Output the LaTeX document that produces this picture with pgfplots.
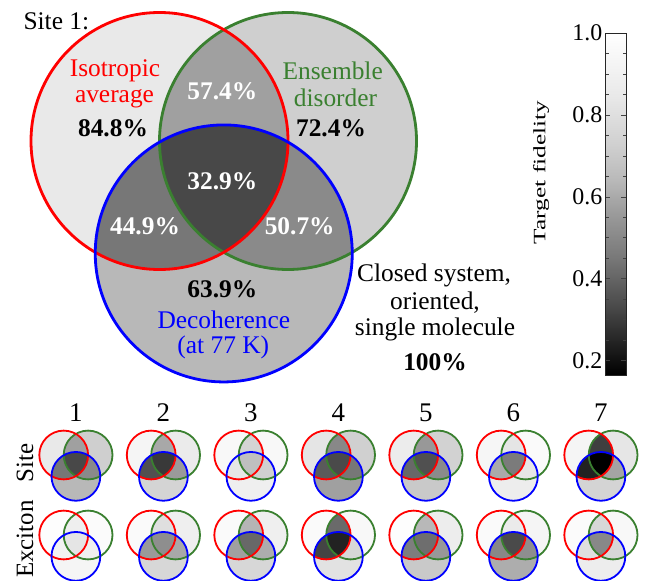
\documentclass[border=0pt]{standalone}
\usepackage{fontspec}
\setmainfont{Liberation Serif}
\usepackage{pgfplots}
\pgfplotsset{compat=1.18}
\definecolor{vgreen}{RGB}{58,128,48}
\definecolor{vred}{RGB}{255,0,0}
\definecolor{vblue}{RGB}{0,0,255}
\pgfplotsset{colormap={fid}{gray(165pt)=(0); gray(329pt)=(0.282); gray(449pt)=(0.467); gray(507pt)=(0.541); gray(574pt)=(0.627); gray(639pt)=(0.722); gray(724pt)=(0.812); gray(848pt)=(0.914); gray(1000pt)=(1)}}
\newcommand\fs[1]{\fontsize{#1}{#1}\selectfont}
\newcommand\defcol[2]{\pgfmathparse{max(0,min(1000,(#2-0.165)/0.835*1000))}\pgfplotscolormapdefinemappedcolor{\pgfmathresult}\colorlet{#1}{mapped color}}
% id, R, G, B, RG, RB, GB, RGB  (target fidelities)
\newcommand\venncols[8]{\defcol{#1R}{#2}\defcol{#1G}{#3}\defcol{#1B}{#4}\defcol{#1RG}{#5}\defcol{#1RB}{#6}\defcol{#1GB}{#7}\defcol{#1RGB}{#8}}
% id, cx, cy, r, line width
\newcommand\venn[5]{%
 \coordinate (#1r) at (axis cs:#2,#3);
 \coordinate (#1g) at ([xshift=#4bp]axis cs:#2,#3);
 \coordinate (#1b) at ([shift={({0.5*#4bp},{-0.875*#4bp})}]axis cs:#2,#3);
 \fill[#1R] (#1r) circle[radius=#4bp];
 \fill[#1G] (#1g) circle[radius=#4bp];
 \fill[#1B] (#1b) circle[radius=#4bp];
 \begin{scope}\clip (#1g) circle[radius=#4bp]; \fill[#1GB] (#1b) circle[radius=#4bp];\end{scope}
 \begin{scope}\clip (#1r) circle[radius=#4bp]; \fill[#1RG] (#1g) circle[radius=#4bp]; \fill[#1RB] (#1b) circle[radius=#4bp];
   \clip (#1g) circle[radius=#4bp]; \fill[#1RGB] (#1b) circle[radius=#4bp];\end{scope}
 \draw[vgreen, line width=#5] (#1g) circle[radius=#4bp];
 \draw[vred, line width=#5] (#1r) circle[radius=#4bp];
 \draw[vblue, line width=#5] (#1b) circle[radius=#4bp];
}
\begin{document}
\begin{tikzpicture}
\begin{axis}[at={(0,0)}, anchor=south west, scale only axis, width=646bp, height=581bp,
  xmin=0, xmax=646, ymin=0, ymax=581, y dir=reverse, hide axis, clip=false]
% main Venn, site 1
\venncols{m}{0.848}{0.724}{0.639}{0.574}{0.449}{0.507}{0.329}
\venn{m}{159.5}{141}{128.5}{2.8bp}
% site row
\venncols{sa}{0.848}{0.724}{0.639}{0.574}{0.449}{0.507}{0.329}
\venncols{sb}{0.93}{0.86}{0.75}{0.595}{0.35}{0.555}{0.295}
\venncols{sc}{0.95}{0.95}{0.89}{0.75}{0.835}{0.73}{0.665}
\venncols{sd}{0.83}{0.73}{0.574}{0.50}{0.375}{0.449}{0.334}
\venncols{se}{0.87}{0.74}{0.70}{0.55}{0.41}{0.51}{0.35}
\venncols{sf}{0.94}{0.965}{0.875}{0.83}{0.60}{0.835}{0.46}
\venncols{sg}{0.93}{0.835}{0.75}{0.31}{0.243}{0.585}{0.165}
% exciton row
\venncols{ea}{0.985}{0.97}{0.93}{0.89}{0.91}{0.89}{0.83}
\venncols{eb}{0.965}{0.89}{0.76}{0.80}{0.555}{0.595}{0.52}
\venncols{ec}{0.965}{0.89}{0.76}{0.63}{0.574}{0.61}{0.41}
\venncols{ed}{0.965}{0.95}{0.815}{0.415}{0.32}{0.76}{0.243}
\venncols{ee}{0.985}{0.875}{0.70}{0.639}{0.47}{0.55}{0.425}
\venncols{ef}{0.965}{0.93}{0.61}{0.86}{0.50}{0.52}{0.334}
\venncols{eg}{0.975}{0.95}{0.875}{0.76}{0.80}{0.76}{0.50}
\venn{sa}{63.7}{455}{24.4}{1.8bp}
\venn{sb}{151.2}{455}{24.4}{1.8bp}
\venn{sc}{238.7}{455}{24.4}{1.8bp}
\venn{sd}{326.2}{455}{24.4}{1.8bp}
\venn{se}{413.7}{455}{24.4}{1.8bp}
\venn{sf}{501.2}{455}{24.4}{1.8bp}
\venn{sg}{588.7}{455}{24.4}{1.8bp}
\venn{ea}{63.7}{535}{24.4}{1.8bp}
\venn{eb}{151.2}{535}{24.4}{1.8bp}
\venn{ec}{238.7}{535}{24.4}{1.8bp}
\venn{ed}{326.2}{535}{24.4}{1.8bp}
\venn{ee}{413.7}{535}{24.4}{1.8bp}
\venn{ef}{501.2}{535}{24.4}{1.8bp}
\venn{eg}{588.7}{535}{24.4}{1.8bp}
% texts
\node[anchor=base west, font=\fs{25.5}, inner sep=0] at (axis cs:23.3,29.3) {Site 1:};
\node[anchor=base, font=\fs{25.5}, text=vred, inner sep=0] at (axis cs:115,76.7) {Isotropic};
\node[anchor=base, font=\fs{25.5}, text=vred, inner sep=0] at (axis cs:114.5,102.7) {average};
\node[anchor=base, font=\fs{25.5}\bfseries, inner sep=0] at (axis cs:113,136.7) {84.8\%};
\node[anchor=base, font=\fs{25.5}\bfseries, text=white, inner sep=0] at (axis cs:222.3,99) {57.4\%};
\node[anchor=base, font=\fs{25.5}, text=vgreen, inner sep=0] at (axis cs:332.7,79.3) {Ensemble};
\node[anchor=base, font=\fs{25.5}, text=vgreen, inner sep=0] at (axis cs:335.5,106) {disorder};
\node[anchor=base, font=\fs{25.5}\bfseries, inner sep=0] at (axis cs:331,136.7) {72.4\%};
\node[anchor=base, font=\fs{25.5}\bfseries, text=white, inner sep=0] at (axis cs:222.3,189.3) {32.9\%};
\node[anchor=base, font=\fs{25.5}\bfseries, text=white, inner sep=0] at (axis cs:145,234) {44.9\%};
\node[anchor=base, font=\fs{25.5}\bfseries, text=white, inner sep=0] at (axis cs:299.7,234) {50.7\%};
\node[anchor=base, font=\fs{25.5}\bfseries, inner sep=0] at (axis cs:222.3,297.7) {63.9\%};
\node[anchor=base, font=\fs{25.5}, text=vblue, inner sep=0] at (axis cs:223.8,328.3) {Decoherence};
\node[anchor=base, font=\fs{25.5}, text=vblue, inner sep=0] at (axis cs:223.3,353.3) {(at 77 K)};
\node[anchor=base, font=\fs{25.5}, inner sep=0] at (axis cs:434,281.7) {Closed system,};
\node[anchor=base, font=\fs{25.5}, inner sep=0] at (axis cs:435,309.3) {oriented,};
\node[anchor=base, font=\fs{25.5}, inner sep=0] at (axis cs:435,335) {single molecule};
\node[anchor=base, font=\fs{25.5}\bfseries, inner sep=0] at (axis cs:435,370) {100\%};
% small labels
\node[anchor=base, font=\fs{27}, inner sep=0] at (axis cs:75.9,421.7) {1};
\node[anchor=base, font=\fs{27}, inner sep=0] at (axis cs:163.4,421.7) {2};
\node[anchor=base, font=\fs{27}, inner sep=0] at (axis cs:250.9,421.7) {3};
\node[anchor=base, font=\fs{27}, inner sep=0] at (axis cs:338.4,421.7) {4};
\node[anchor=base, font=\fs{27}, inner sep=0] at (axis cs:425.9,421.7) {5};
\node[anchor=base, font=\fs{27}, inner sep=0] at (axis cs:513.4,421.7) {6};
\node[anchor=base, font=\fs{27}, inner sep=0] at (axis cs:600.9,421.7) {7};
\node[anchor=base, rotate=90, font=\fs{25}, inner sep=0] at (axis cs:33,463) {Site};
\node[anchor=base, rotate=90, font=\fs{25}, inner sep=0] at (axis cs:33,539) {Exciton};
\node[rotate=90, font=\fs{17.5}, inner sep=0] at (axis cs:541,172.5) {\scalebox{1.45}[1]{Target fidelity}};
\end{axis}
\begin{axis}[at={(605bp,206bp)}, anchor=south west, scale only axis, width=21bp, height=342bp,
  xmin=0, xmax=1, ymin=0.165, ymax=1, xtick=\empty,
  ytick={0.2,0.4,0.6,0.8,1.0},
  minor ytick={0.25,0.3,0.35,0.45,0.5,0.55,0.65,0.7,0.75,0.85,0.9,0.95},
  tick align=inside, ytick pos=both, yticklabel pos=left,
  major tick length=5bp, minor tick length=3.5bp,
  every tick/.style={black!75, line width=0.6bp},
  axis line style={black!85, line width=0.8bp}, axis on top,
  yticklabel style={font=\fs{24}, inner sep=2.5bp, /pgf/number format/.cd, fixed, fixed zerofill, precision=1, assume math mode=true}]
\addplot[patch, shader=interp, point meta=y, colormap name=fid] coordinates {
(0,0.165) (1,0.165) (1,0.329)   (0,0.165) (1,0.329) (0,0.329)
(0,0.329) (1,0.329) (1,0.449)   (0,0.329) (1,0.449) (0,0.449)
(0,0.449) (1,0.449) (1,0.507)   (0,0.449) (1,0.507) (0,0.507)
(0,0.507) (1,0.507) (1,0.574)   (0,0.507) (1,0.574) (0,0.574)
(0,0.574) (1,0.574) (1,0.639)   (0,0.574) (1,0.639) (0,0.639)
(0,0.639) (1,0.639) (1,0.724)   (0,0.639) (1,0.724) (0,0.724)
(0,0.724) (1,0.724) (1,0.848)   (0,0.724) (1,0.848) (0,0.848)
(0,0.848) (1,0.848) (1,1)       (0,0.848) (1,1) (0,1)
};
\end{axis}
\pgfresetboundingbox
\path (0,0) rectangle (646bp,581bp);
\end{tikzpicture}
\end{document}
